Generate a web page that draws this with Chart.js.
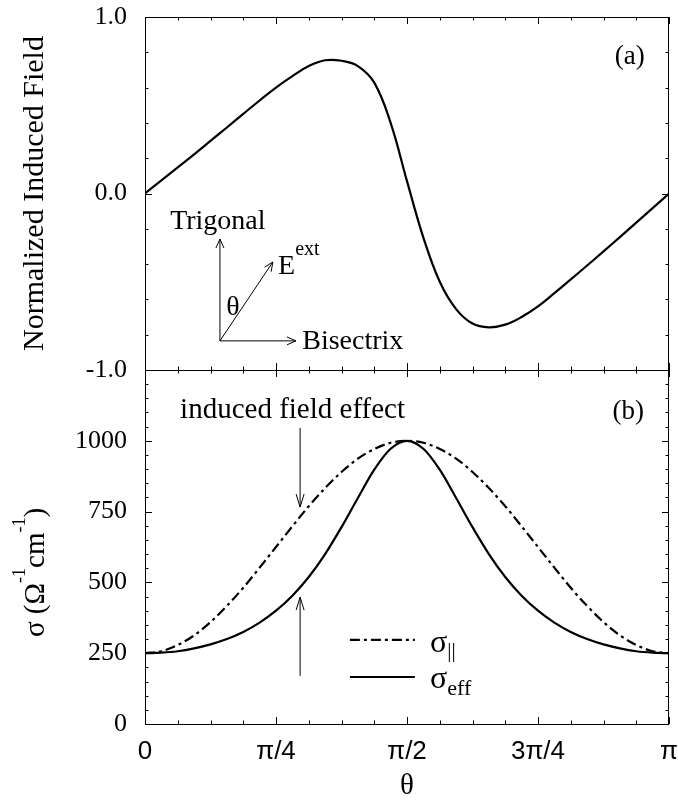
<!DOCTYPE html>
<html>
<head>
<meta charset="utf-8">
<script src="https://cdn.jsdelivr.net/npm/chart.js@4.4.1/dist/chart.umd.min.js"></script>
<style>
  html, body { margin: 0; background: #fff; }
  #wrap { position: relative; width: 678px; height: 804px; }
  canvas { position: absolute; left: 0; }
  #fieldChart { top: 0; }
  #sigmaChart { top: 360px; }
</style>
</head>
<body>
<div id="wrap">
  <canvas id="fieldChart" width="678" height="380"></canvas>
  <canvas id="sigmaChart" width="678" height="444"></canvas>
</div>
<script>
// angle between field and trigonal axis, in units of pi
const theta = [0, 0.03125, 0.0625, 0.09375, 0.125, 0.15625, 0.1875, 0.21875, 0.25,
  0.28125, 0.3125, 0.34375, 0.375, 0.40625, 0.4375, 0.46875, 0.5,
  0.53125, 0.5625, 0.59375, 0.625, 0.65625, 0.6875, 0.71875, 0.75,
  0.78125, 0.8125, 0.84375, 0.875, 0.90625, 0.9375, 0.96875, 1];

// (a) normalized induced field
const inducedField = [0, 0.074, 0.148, 0.222, 0.298, 0.374, 0.451, 0.527, 0.600,
  0.665, 0.722, 0.755, 0.752, 0.722, 0.628, 0.40, 0.07,
  -0.25, -0.50, -0.655, -0.737, -0.758, -0.743, -0.70, -0.64,
  -0.565, -0.487, -0.408, -0.328, -0.247, -0.165, -0.083, 0];

// (b) conductivities, Ohm^-1 cm^-1
const sigmaPar = [250, 257, 279, 313, 360, 417, 481, 552, 625,
  698, 769, 833, 890, 937, 971, 993, 1000,
  993, 971, 937, 890, 833, 769, 698, 625,
  552, 481, 417, 360, 313, 279, 257, 250];
const sigmaEff = [250, 252, 257, 267, 281, 300, 325, 358, 400,
  453, 519, 600, 695, 798, 898, 972, 1000,
  972, 898, 798, 695, 600, 519, 453, 400,
  358, 325, 300, 281, 267, 257, 252, 250];

const thetaTicks = [0, 0.25, 0.5, 0.75, 1];
const thetaTickLabels = ["0", "π/4", "π/2", "3π/4", "π"];
const fieldTicks = [-1, 0, 1];
const fieldTickLabels = ["-1.0", "0.0", "1.0"];
const sigmaTicks = [0, 250, 500, 750, 1000];
const sigmaTickLabels = ["0", "250", "500", "750", "1000"];

const SERIF = "'Liberation Serif', 'Times New Roman', serif";
const SANS = "'Liberation Sans', Arial, sans-serif";

Chart.defaults.color = "#000";
Chart.defaults.animation = false;

const points = (ys) => theta.map((t, i) => ({ x: t, y: ys[i] }));

// minor tick positions (major every 4th / 5th)
const thetaMinor = Array.from({ length: 17 }, (_, k) => ({ v: k / 16, major: k % 4 === 0 }));
const fieldMinor = Array.from({ length: 11 }, (_, k) => ({ v: -1 + k * 0.2, major: k % 5 === 0 }));
const sigmaMinor = Array.from({ length: 26 }, (_, k) => ({ v: k * 50, major: k % 5 === 0 }));

// keep the plot box where the layout padding puts it (no room for label overflow)
const noOverflow = (s) => { s.paddingTop = 0; s.paddingBottom = 0; s.paddingLeft = 0; s.paddingRight = 0; };

function arrow(ctx, x1, y1, x2, y2, len, half) {
  const ang = Math.atan2(y2 - y1, x2 - x1);
  const bx = x2 - len * Math.cos(ang), by = y2 - len * Math.sin(ang);
  const nx = -Math.sin(ang) * half, ny = Math.cos(ang) * half;
  ctx.beginPath();
  ctx.moveTo(x1, y1); ctx.lineTo(x2, y2);
  ctx.moveTo(bx + nx, by + ny); ctx.lineTo(x2, y2); ctx.lineTo(bx - nx, by - ny);
  ctx.stroke();
}

// text run with sub/superscripts: parts = [[text, size, dy], ...]
function richText(ctx, x, y, parts) {
  let cx = x;
  parts.forEach(([t, size, dy]) => {
    ctx.font = size + "px " + SERIF;
    ctx.fillText(t, cx, y + dy);
    cx += ctx.measureText(t).width;
  });
}
function richWidth(ctx, parts) {
  return parts.reduce((w, [t, size]) => {
    ctx.font = size + "px " + SERIF;
    return w + ctx.measureText(t).width;
  }, 0);
}

// box around the plot with inward ticks on all sides
function frameTicks(xMinor, yMinor) {
  return {
    id: "frameTicks",
    afterDraw(chart) {
      const { ctx, chartArea: a, scales: { x, y } } = chart;
      ctx.save();
      ctx.strokeStyle = "#000";
      ctx.lineWidth = 1;
      ctx.beginPath();
      xMinor.forEach(({ v, major }) => {
        const px = Math.round(x.getPixelForValue(v)) + 0.5;
        const len = major ? 7 : 3.5;
        ctx.moveTo(px, a.bottom); ctx.lineTo(px, a.bottom - len);
        ctx.moveTo(px, a.top); ctx.lineTo(px, a.top + len);
      });
      yMinor.forEach(({ v, major }) => {
        const py = Math.round(y.getPixelForValue(v)) + 0.5;
        const len = major ? 7 : 3.5;
        ctx.moveTo(a.left, py); ctx.lineTo(a.left + len, py);
        ctx.moveTo(a.right, py); ctx.lineTo(a.right - len, py);
      });
      ctx.stroke();
      ctx.strokeRect(a.left + 0.5, a.top + 0.5, a.right - a.left - 1, a.bottom - a.top);
      ctx.restore();
    }
  };
}

const fieldNotes = {
  id: "fieldNotes",
  afterDraw(chart) {
    const { ctx, scales: { x, y } } = chart;
    const P = (t, v) => [x.getPixelForValue(t), y.getPixelForValue(v)];
    ctx.save();
    ctx.fillStyle = "#000";
    ctx.strokeStyle = "#000";
    ctx.lineWidth = 1;
    ctx.textBaseline = "alphabetic";

    ctx.font = "27px " + SERIF;
    ctx.textAlign = "center";
    ctx.fillText("(a)", ...P(0.925, 0.734));

    // axes sketch: trigonal, bisectrix and the applied field
    const [ox, oy] = P(0.143, -0.835);
    arrow(ctx, ox, oy, ox, P(0, -0.258)[1], 9, 4);
    arrow(ctx, ox, oy, P(0.288, 0)[0], oy, 9, 4);
    arrow(ctx, ox, oy, ...P(0.244, -0.388), 9, 4);

    ctx.textAlign = "left";
    ctx.font = "28px " + SERIF;
    ctx.fillText("Trigonal", ...P(0.048, -0.201));
    ctx.fillText("Bisectrix", ...P(0.300, -0.881));
    ctx.textAlign = "center";
    ctx.fillText("θ", ...P(0.168, -0.688));
    ctx.textAlign = "left";
    const [ex, ey] = P(0.254, -0.456);
    richText(ctx, ex, ey, [["E", 28, 0], ["ext", 20, -19]]);
    ctx.restore();
  }
};

const sigmaNotes = {
  id: "sigmaNotes",
  afterDraw(chart) {
    const { ctx, scales: { x, y } } = chart;
    const P = (t, v) => [x.getPixelForValue(t), y.getPixelForValue(v)];
    ctx.save();
    ctx.fillStyle = "#000";
    ctx.strokeStyle = "#000";
    ctx.textBaseline = "alphabetic";

    ctx.font = "27px " + SERIF;
    ctx.textAlign = "center";
    ctx.fillText("(b)", ...P(0.922, 1077));

    ctx.textAlign = "left";
    ctx.font = "29px " + SERIF;
    ctx.fillText("induced field effect", ...P(0.067, 1080));

    ctx.lineWidth = 1;
    const ax = P(0.296, 0)[0];
    arrow(ctx, ax, y.getPixelForValue(1045), ax, y.getPixelForValue(766), 13, 4);
    arrow(ctx, ax, y.getPixelForValue(170), ax, y.getPixelForValue(448), 13, 4);

    // legend
    const [lx1] = P(0.391, 0), [lx2] = P(0.515, 0), [tx] = P(0.544, 0);
    const rows = [
      { ds: chart.data.datasets[0], line: 297, base: 254, sub: [["||", 21, 5]] },
      { ds: chart.data.datasets[1], line: 166, base: 127, sub: [["eff", 22, 7]] }
    ];
    rows.forEach(({ ds, line, base, sub }) => {
      const ly = y.getPixelForValue(line);
      ctx.save();
      ctx.lineWidth = ds.borderWidth;
      ctx.setLineDash(ds.borderDash || []);
      ctx.beginPath();
      ctx.moveTo(lx1, ly); ctx.lineTo(lx2, ly);
      ctx.stroke();
      ctx.restore();
      richText(ctx, tx, y.getPixelForValue(base), [["σ", 32, 0], ...sub]);
    });

    // rotated axis title with superscripts
    const title = [["σ (Ω", 29, 0], ["-1", 18, -19], ["cm", 29, 0], ["-1", 18, -19], [")", 29, 0]];
    const w = richWidth(ctx, title);
    ctx.translate(44, y.getPixelForValue(535));
    ctx.rotate(-Math.PI / 2);
    richText(ctx, -w / 2, 0, title);
    ctx.restore();
  }
};

new Chart(document.getElementById("fieldChart"), {
  type: "line",
  data: {
    datasets: [{
      data: points(inducedField),
      borderColor: "#000", borderWidth: 2.2,
      pointRadius: 0, fill: false, tension: 0.4
    }]
  },
  options: {
    responsive: false,
    layout: { padding: { top: 17, right: 9, left: 0, bottom: 0 } },
    plugins: { legend: { display: false }, tooltip: { enabled: false } },
    scales: {
      x: {
        type: "linear", min: 0, max: 1,
        grid: { display: false, drawTicks: false }, border: { display: false },
        ticks: { display: false },
        afterFit: (s) => { s.height = 10; noOverflow(s); }
      },
      y: {
        min: -1, max: 1,
        grid: { display: false, drawTicks: false }, border: { display: false },
        afterBuildTicks: (s) => { s.ticks = fieldTicks.map(v => ({ value: v })); },
        ticks: { padding: 18, font: { family: SERIF, size: 26 }, callback: (v, i) => fieldTickLabels[i] },
        title: { display: true, text: "Normalized Induced Field", font: { family: SERIF, size: 30 }, padding: { top: 17, bottom: 0 } },
        afterFit: (s) => { s.width = 145; noOverflow(s); }
      }
    }
  },
  plugins: [frameTicks(thetaMinor, fieldMinor), fieldNotes]
});

new Chart(document.getElementById("sigmaChart"), {
  type: "line",
  data: {
    datasets: [
      {
        label: "σ||", data: points(sigmaPar),
        borderColor: "#000", borderWidth: 2.2, borderDash: [10, 4, 3, 4],
        pointRadius: 0, fill: false, cubicInterpolationMode: "monotone"
      },
      {
        label: "σeff", data: points(sigmaEff),
        borderColor: "#000", borderWidth: 2.2,
        pointRadius: 0, fill: false, cubicInterpolationMode: "monotone"
      }
    ]
  },
  options: {
    responsive: false,
    layout: { padding: { top: 10, right: 9, left: 0, bottom: 0 } },
    plugins: { legend: { display: false }, tooltip: { enabled: false } },
    scales: {
      x: {
        type: "linear", min: 0, max: 1,
        grid: { display: false, drawTicks: false }, border: { display: false },
        afterBuildTicks: (s) => { s.ticks = thetaTicks.map(v => ({ value: v })); },
        ticks: { padding: 12, maxRotation: 0, font: { family: SANS, size: 26 }, callback: (v, i) => thetaTickLabels[i] },
        title: { display: true, text: "θ", font: { family: SERIF, size: 29 }, padding: { top: 0, bottom: 0 } },
        afterFit: (s) => { s.height = 80; noOverflow(s); }
      },
      y: {
        min: 0, max: 1250,
        grid: { display: false, drawTicks: false }, border: { display: false },
        afterBuildTicks: (s) => { s.ticks = sigmaTicks.map(v => ({ value: v })); },
        ticks: { padding: 18, font: { family: SERIF, size: 26 }, callback: (v, i) => sigmaTickLabels[i] },
        afterFit: (s) => { s.width = 145; noOverflow(s); }
      }
    }
  },
  plugins: [frameTicks(thetaMinor, sigmaMinor), sigmaNotes]
});
</script>
</body>
</html>
